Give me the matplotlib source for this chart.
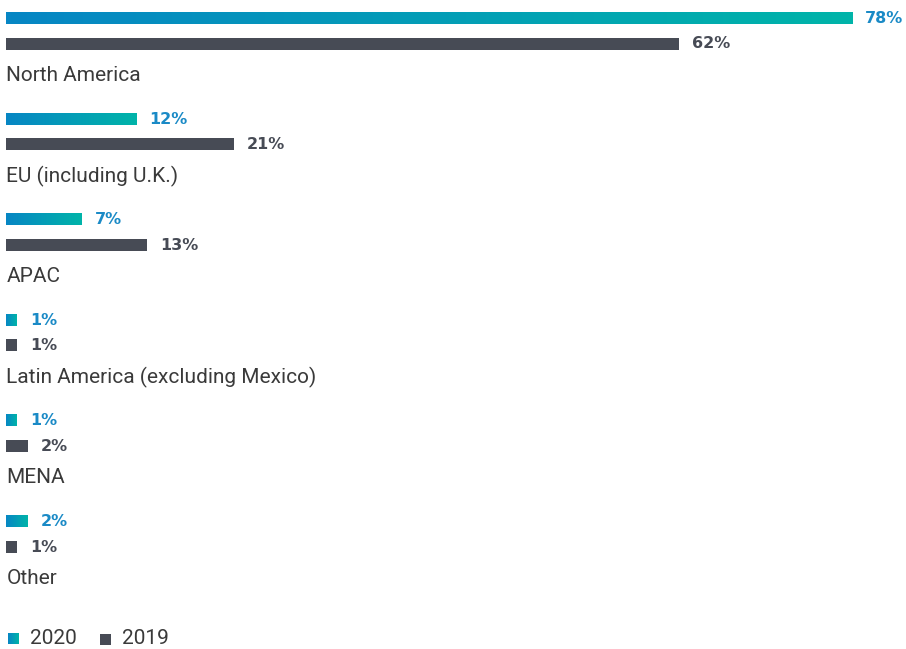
import numpy as np
import matplotlib
matplotlib.use("Agg")
import matplotlib.pyplot as plt
from matplotlib.colors import LinearSegmentedColormap

regions = ["North America", "EU (including U.K.)", "APAC",
           "Latin America (excluding Mexico)", "MENA", "Other"]
share_2020 = [78, 12, 7, 1, 1, 2]
share_2019 = [62, 21, 13, 1, 2, 1]
series_names = ["2020", "2019"]

W, H = 906, 649
fig = plt.figure(figsize=(W / 100, H / 100), dpi=100)
left_px = 6
px_per_pct = 10.85
ax = fig.add_axes([left_px / W, 0, 1 - left_px / W, 1])
ax.set_xlim(0, (W - left_px) / px_per_pct)
ax.set_ylim(H, 0)
ax.axis("off")

grad = LinearSegmentedColormap.from_list("g", ["#0786c4", "#00b4a9"])
dark = "#474b55"
blue_txt = "#1a8ac6"
cat_txt = "#3a3a3a"
val_font = "DejaVu Sans"
cat_font = "Roboto"

group_step = 100.6
bar_h = 12
pct_w = 1 / px_per_pct  # one pixel in data units

for i, name in enumerate(regions):
    base = 18 + i * group_step
    y20 = base
    y19 = base + 25.5
    ycat = base + 57.5
    v20, v19 = share_2020[i], share_2019[i]
    # gradient bar for 2020
    img = np.linspace(0, 1, 256).reshape(1, -1)
    ax.imshow(img, cmap=grad, aspect="auto", interpolation="bilinear",
              extent=[0, v20, y20 + bar_h / 2, y20 - bar_h / 2], zorder=2)
    ax.barh(y19, v19, height=bar_h, left=0, color=dark, zorder=2)
    ax.text(v20 + 13 * pct_w, y20 + 0.5, f"{v20}%", va="center", ha="left",
            fontsize=11.5, fontweight="bold", color=blue_txt, family=val_font)
    ax.text(v19 + 13 * pct_w, y19 + 0.5, f"{v19}%", va="center", ha="left",
            fontsize=11.5, fontweight="bold", color=dark, family=val_font)
    ax.text(0.5 * pct_w, ycat, name, va="center", ha="left", fontsize=15,
            color=cat_txt, family=cat_font)

# legend
leg_y = 639
sq = 11
img = np.linspace(0, 1, 64).reshape(1, -1)
ax.imshow(img, cmap=grad, aspect="auto", interpolation="bilinear",
          extent=[2 * pct_w, (2 + sq) * pct_w, leg_y + sq / 2, leg_y - sq / 2])
ax.text(24 * pct_w, leg_y, series_names[0], va="center", ha="left",
        fontsize=15, color=cat_txt, family=cat_font)
ax.barh(leg_y, sq * pct_w, height=sq, left=94 * pct_w, color=dark)
ax.text(116 * pct_w, leg_y, series_names[1], va="center", ha="left",
        fontsize=15, color=cat_txt, family=cat_font)

ax.set_xlim(0, (W - left_px) / px_per_pct)
ax.set_ylim(H, 0)
fig.savefig("out.png", dpi=100)
